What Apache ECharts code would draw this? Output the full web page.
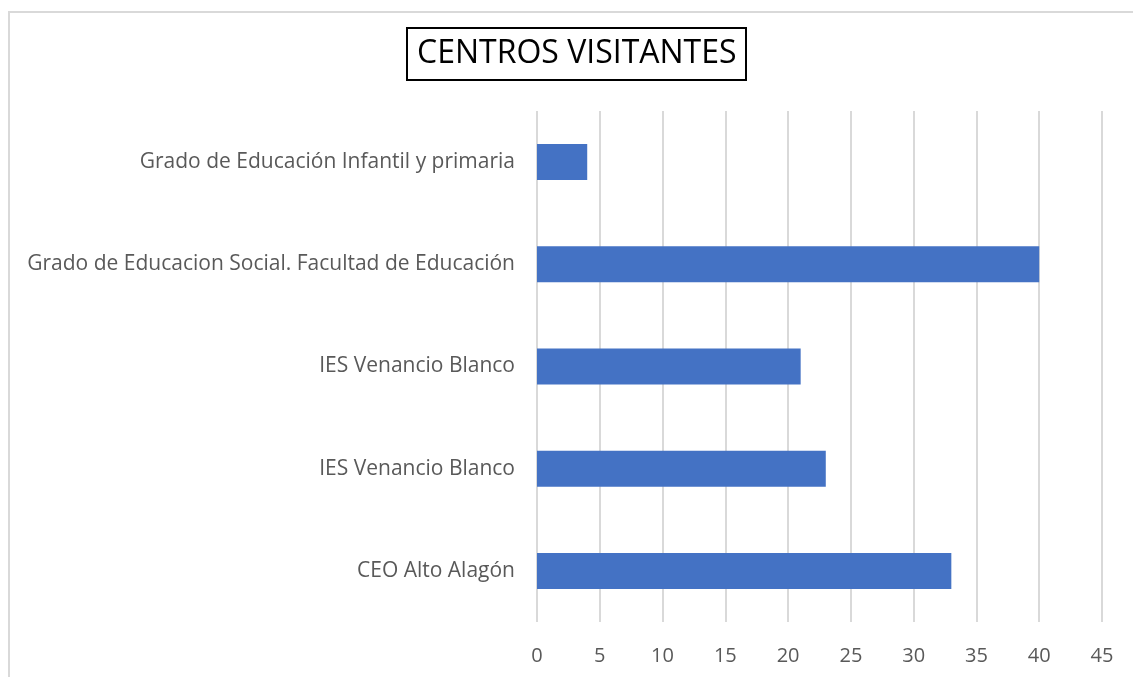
<!DOCTYPE html>
<html>
<head>
<meta charset="utf-8">
<script src="https://cdn.jsdelivr.net/npm/echarts@6/dist/echarts.min.js"></script>
<style>
  html, body { margin: 0; padding: 0; background: #fff; }
  #chart { width: 1133px; height: 677px; }
</style>
</head>
<body>
<div id="chart"></div>
<script>
// bottom to top, as the category axis draws them
const centros = [
  'CEO Alto Alagón',
  'IES Venancio Blanco',
  'IES Venancio Blanco',
  'Grado de Educacion Social. Facultad de Educación',
  'Grado de Educación Infantil y primaria'
];
const visitantes = [33, 23, 21, 40, 4];
const ticks = [0, 5, 10, 15, 20, 25, 30, 35, 40, 45];

const chart = echarts.init(document.getElementById('chart'));
chart.setOption({
  animation: false,
  textStyle: { fontFamily: 'Open Sans' },
  title: {
    text: 'CENTROS VISITANTES',
    left: 407,
    top: 28,
    padding: [10, 10, 10, 10],
    borderColor: '#000',
    borderWidth: 2,
    textStyle: { fontFamily: 'Open Sans', fontSize: 32, fontWeight: 'normal', color: '#000' }
  },
  graphic: [{
    type: 'rect',
    shape: { x: 9, y: 12, width: 1200, height: 800 },
    style: { fill: 'none', stroke: '#d9d9d9', lineWidth: 2 },
    silent: true
  }],
  grid: { left: 537, right: 31, top: 111, bottom: 55, containLabel: false },
  xAxis: {
    type: 'value',
    min: ticks[0],
    max: ticks[ticks.length - 1],
    interval: 5,
    axisLine: { show: false },
    axisTick: { show: false },
    axisLabel: { color: '#595959', fontSize: 20, margin: 24 },
    splitLine: { show: true, lineStyle: { color: '#d9d9d9', width: 2 } }
  },
  yAxis: {
    type: 'category',
    data: centros,
    axisLine: { show: false },
    axisTick: { show: false },
    axisLabel: { color: '#595959', fontSize: 21, margin: 22, padding: [4, 0, 0, 0] }
  },
  series: [{
    type: 'bar',
    data: visitantes,
    barWidth: 36,
    itemStyle: { color: '#4472c4' }
  }]
});
</script>
</body>
</html>
